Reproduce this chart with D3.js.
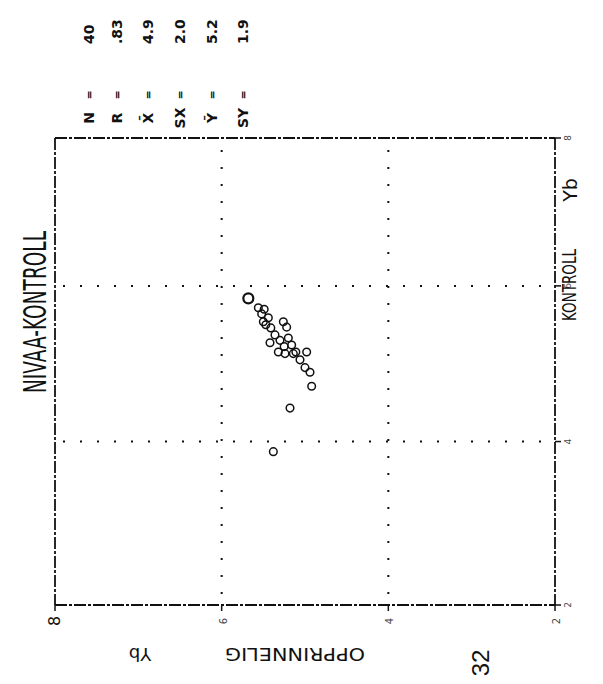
<!DOCTYPE html>
<html><head><meta charset="utf-8">
<script src="https://cdn.jsdelivr.net/npm/d3@7"></script>
<style>body{margin:0;background:#fff}svg{display:block}</style>
</head><body><svg id="c" width="603" height="684"></svg>
<script>
// Data (original chart: x = KONTROLL Yb, y = OPPRINNELIG Yb; the page is rotated 90°)
const kontroll     = [5.84,5.72,5.64,5.59,5.54,5.46,5.54,5.37,5.30,5.33,5.24,5.15,5.13,5.13,5.15,4.95,4.89,4.71,4.43,3.87,5.50,5.22,5.05,5.15,5.27,5.70,5.47];
const opprinnelig  = [5.68,5.56,5.52,5.44,5.50,5.41,5.26,5.36,5.30,5.20,5.16,5.32,5.24,5.14,4.98,5.00,4.94,4.92,5.18,5.38,5.47,5.25,5.06,5.11,5.42,5.49,5.22];
const xDomain = [1.9, 7.9];
const xTicks = [4, 6];
const yTicks = [8, 6, 4, 2];
const statLabels = ["N","R","X\u0304","SX","Y\u0304","SY"];
const statValues = ["40",".83","4.9","2.0","5.2","1.9"];
const titleText = "NIVAA-KONTROLL";
const xLabel = "KONTROLL";
const yLabel = "OPPRINNELIG";
const unitLabel = "Yb";
const pageNo = "32";

const svg = d3.select("#c");
const ink = "#111";
const font = "'DejaVu Sans', sans-serif";

// original y-axis runs horizontally (max at left), original x-axis runs vertically (max at top)
const yS = d3.scaleLinear().domain([8, 2]).range([55, 555]);
const xS = d3.scaleLinear().domain(xDomain).range([605, 138]);

const [L, R] = yS.range();
const B = xS(xDomain[0]), T = xS(xDomain[1]);

// dotted gridlines
const grid = svg.append("g").attr("stroke", ink).attr("stroke-width", 2).attr("stroke-dasharray", "2,15");
yTicks.filter(v => v !== 8 && v !== 2).forEach(v => {
  grid.append("line").attr("x1", yS(v)).attr("x2", yS(v)).attr("y1", T + 12).attr("y2", B - 4);
});
xTicks.forEach(v => {
  grid.append("line").attr("x1", L + 8).attr("x2", R - 4).attr("y1", xS(v)).attr("y2", xS(v));
});

// frame (dash-dot like a plotter scan)
const frame = svg.append("g").attr("stroke", ink).attr("fill", "none").attr("stroke-width", 1.8)
  .attr("stroke-dasharray", "12,2,3,2");
frame.append("line").attr("x1", L).attr("x2", R).attr("y1", T).attr("y2", T);
frame.append("line").attr("x1", L).attr("x2", R).attr("y1", B).attr("y2", B);
frame.append("line").attr("x1", L).attr("x2", L).attr("y1", T).attr("y2", B);
frame.append("line").attr("x1", R).attr("x2", R).attr("y1", T).attr("y2", B);

// tick marks on axes
yTicks.forEach(v => {
  svg.append("line").attr("x1", yS(v)).attr("x2", yS(v)).attr("y1", B).attr("y2", B + 6).attr("stroke", ink).attr("stroke-width", 1.5);
});
const rightTicks = [xDomain[0], ...xTicks, xDomain[1]];
rightTicks.forEach(v => {
  svg.append("line").attr("x1", R).attr("x2", R + 6).attr("y1", xS(v)).attr("y2", xS(v)).attr("stroke", ink).attr("stroke-width", 1.5);
});

// tick labels (rotated like the page)
yTicks.forEach(v => {
  svg.append("text").attr("transform", `translate(${yS(v) + 5},${B + 16}) rotate(-90)`)
    .attr("text-anchor", "middle").attr("font-family", font)
    .attr("font-size", v === 8 ? 16 : 10).attr("fill", v === 8 ? ink : "#444").text(v);
});
rightTicks.forEach(v => {
  svg.append("text").attr("transform", `translate(${R + 16},${xS(v)}) rotate(-90)`)
    .attr("text-anchor", "middle").attr("font-family", font)
    .attr("font-size", 9).attr("fill", "#444").text(Math.round(v));
});

// points
svg.append("g").selectAll("circle").data(kontroll).join("circle")
  .attr("cx", (d, i) => yS(opprinnelig[i]))
  .attr("cy", d => xS(d))
  .attr("r", (d, i) => i === 0 ? 5 : 3.8)
  .attr("fill", "none").attr("stroke", ink)
  .attr("stroke-width", (d, i) => i === 0 ? 2.2 : 1.5);

// title
svg.append("text").attr("transform", "translate(46,312) rotate(-90)")
  .attr("text-anchor", "middle").attr("font-family", font).attr("font-size", 32)
  .attr("textLength", 162).attr("lengthAdjust", "spacingAndGlyphs")
  .attr("fill", ink).text(titleText);

// right axis label
svg.append("text").attr("transform", "translate(576,285) rotate(-90)")
  .attr("text-anchor", "middle").attr("font-family", font).attr("font-size", 19)
  .attr("textLength", 72).attr("lengthAdjust", "spacingAndGlyphs")
  .attr("fill", ink).text(xLabel);
svg.append("text").attr("transform", "translate(577,190) rotate(-90)")
  .attr("text-anchor", "middle").attr("font-family", font).attr("font-size", 19)
  .attr("fill", ink).text(unitLabel);

// bottom axis label (upside down)
svg.append("text").attr("transform", "translate(295,648) rotate(180)")
  .attr("text-anchor", "middle").attr("font-family", font).attr("font-size", 18)
  .attr("textLength", 140).attr("lengthAdjust", "spacingAndGlyphs")
  .attr("fill", ink).text(yLabel);
svg.append("text").attr("transform", "translate(140,648) rotate(180)")
  .attr("text-anchor", "middle").attr("font-family", font).attr("font-size", 18)
  .attr("fill", ink).text(unitLabel);

// page number
svg.append("text").attr("transform", "translate(489,663) rotate(-90)")
  .attr("text-anchor", "middle").attr("font-family", "'Liberation Sans', sans-serif").attr("font-size", 24)
  .attr("fill", ink).text(pageNo);

// statistics block
const statX = [89, 117, 148, 180, 212, 243];
statLabels.forEach((lab, i) => {
  const x = statX[i];
  svg.append("text").attr("transform", `translate(${x + 5},118) rotate(-90)`)
    .attr("text-anchor", "middle").attr("font-family", font).attr("font-size", 14)
    .attr("font-weight", "bold").attr("fill", ink).text(lab);
  svg.append("text").attr("transform", `translate(${x + 4},95) rotate(-90)`)
    .attr("text-anchor", "middle").attr("font-family", font).attr("font-size", 11)
    .attr("font-weight", "bold").attr("fill", ink).text("=");
  svg.append("text").attr("transform", `translate(${x + 5},44) rotate(-90)`)
    .attr("text-anchor", "start").attr("font-family", font).attr("font-size", 14)
    .attr("font-weight", "bold").attr("fill", ink).text(statValues[i]);
});
</script></body></html>
